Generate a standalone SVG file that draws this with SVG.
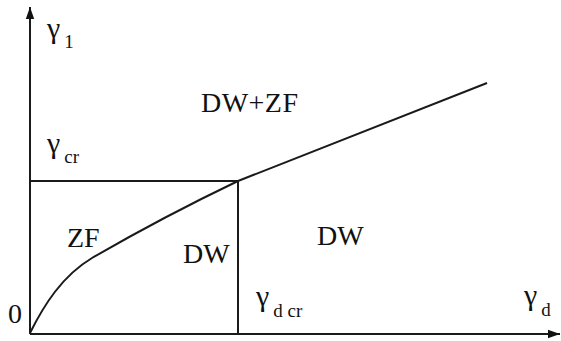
<svg xmlns="http://www.w3.org/2000/svg" width="561" height="341" viewBox="0 0 561 341">
<defs>
<marker id="ah" viewBox="0 0 10 10" refX="10" refY="5" markerWidth="6" markerHeight="6" markerUnits="strokeWidth" orient="auto">
<path d="M0,1.5 L10,5 L0,8.5 Z" fill="#111"/>
</marker>
<style>
.ln{fill:none;stroke:#1a1a1a;stroke-width:2}
text{font-family:'Liberation Serif','Times New Roman',serif;fill:#111}
.big{font-size:28px}
.g{font-size:30px}
.sub{font-size:19px}
</style>
</defs>
<rect width="561" height="341" fill="#fff"/>
<g id="axes">
<line class="ln" x1="30" y1="334" x2="30" y2="7" marker-end="url(#ah)"/>
<line class="ln" x1="30" y1="334" x2="560" y2="334" marker-end="url(#ah)"/>
</g>
<g id="connectors">
<path class="ln" d="M30,181 L238,181 L238,334"/>
<path class="ln" d="M30,333 C44,305 62,276 92,258 C130,236 190,204 238,181"/>
<line class="ln" x1="238" y1="181" x2="487" y2="83"/>
</g>
<g id="labels" font-family="Liberation Serif, serif">
<text class="big" x="8" y="323">0</text>
<text x="47" y="38"><tspan class="g">γ</tspan><tspan class="sub" dx="4" dy="10">1</tspan></text>
<text x="47" y="153"><tspan class="g">γ</tspan><tspan class="sub" dx="4" dy="10">cr</tspan></text>
<text x="256" y="306"><tspan class="g">γ</tspan><tspan class="sub" dx="4" dy="11">d cr</tspan></text>
<text x="524" y="305"><tspan class="g">γ</tspan><tspan class="sub" dx="4" dy="11">d</tspan></text>
</g>
<g id="regions" font-family="Liberation Serif, serif">
<text class="big" x="201" y="112" textLength="97">DW+ZF</text>
<text class="big" x="67" y="247">ZF</text>
<text class="big" x="183" y="263">DW</text>
<text class="big" x="317" y="245">DW</text>
</g>
</svg>
